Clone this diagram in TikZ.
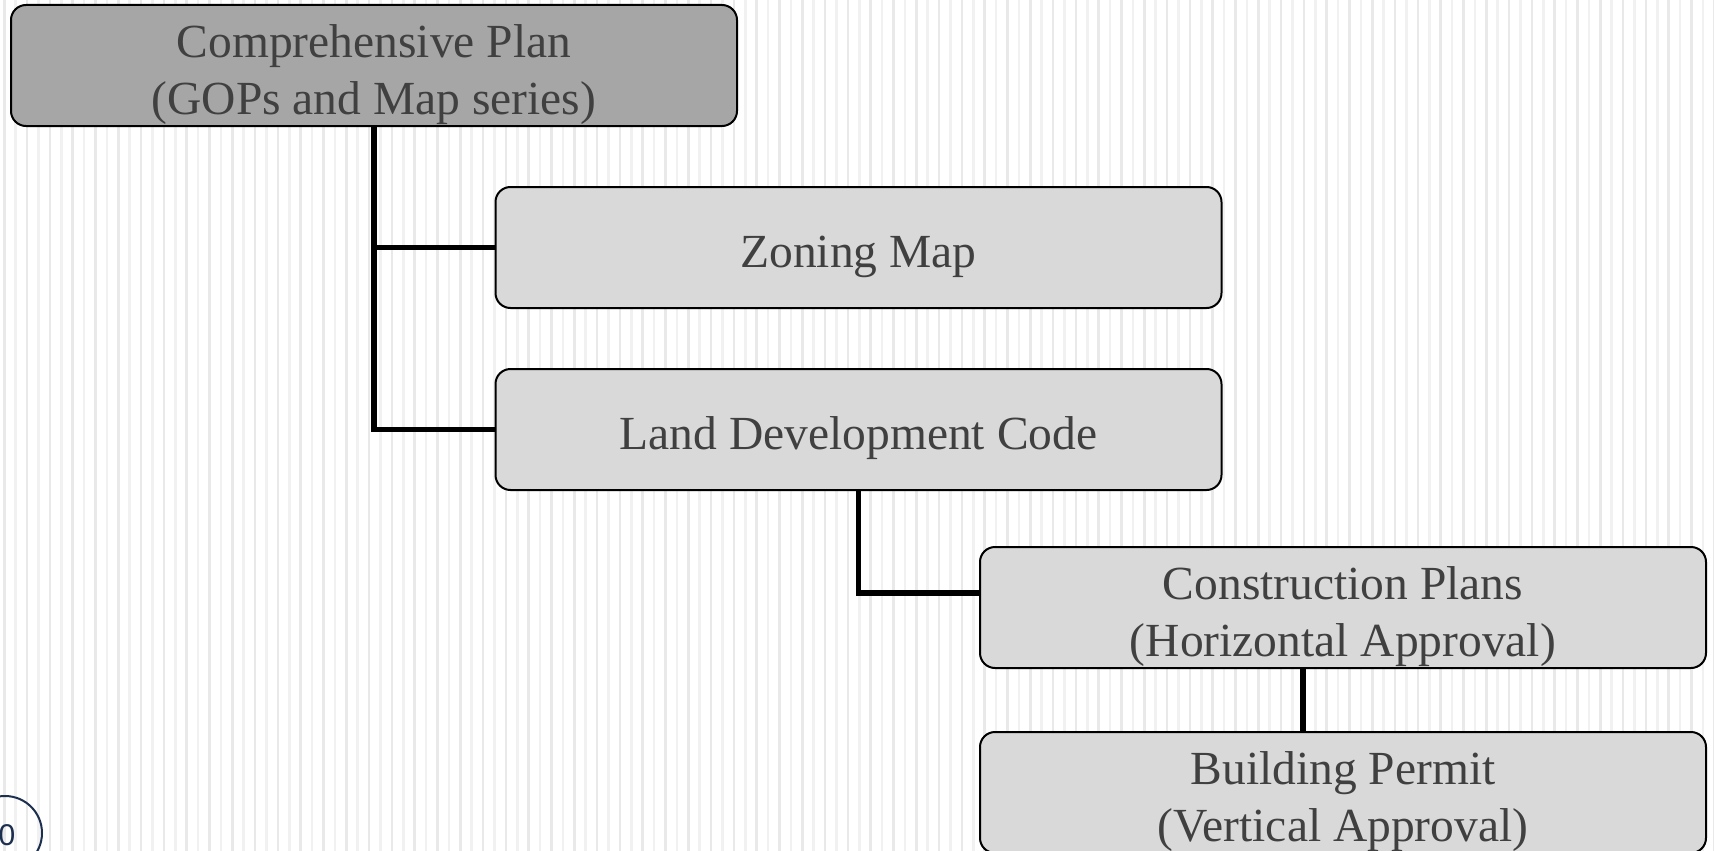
\documentclass[tikz,border=0pt]{standalone}
\usepackage{fontspec}
\setmainfont{Liberation Serif}
\newfontfamily\numfont{Liberation Sans}
\definecolor{txtgray}{HTML}{404040}
\definecolor{darkfill}{HTML}{A6A6A6}
\definecolor{lightfill}{HTML}{D9D9D9}
\definecolor{stripeA}{HTML}{E9E9E9}
\definecolor{stripeB}{HTML}{F1F1F1}
\definecolor{navy}{HTML}{1C2F4F}
\tikzset{
  box/.style={draw=black, line width=2pt, rounded corners=15pt, minimum width=726pt,
    minimum height=121pt, inner sep=0pt},
  topbox/.style={box, fill=darkfill},
  subbox/.style={box, fill=lightfill},
  lbl/.style={inner sep=0pt, align=center, text=txtgray,
    font=\fontsize{47.5}{57}\selectfont},
  link/.style={draw=black, line width=5.5pt}
}
\begin{document}
\begin{tikzpicture}[x=1pt,y=-1pt]
\useasboundingbox (0,0) rectangle (1714,851);
\fill[white] (0,0) rectangle (1714,851);
\foreach \i in {0,...,75} {
  \fill[stripeA] (\i*22.8+3,0) rectangle ++(2.6,851);
  \fill[stripeB] (\i*22.8+14.4,0) rectangle ++(2.6,851);
}
% boxes
\node[topbox] (plan) at (374,65.5) {};
\node[subbox] (zoning) at (858.5,247.5) {};
\node[subbox] (ldc) at (858.5,429.5) {};
\node[subbox] (cons) at (1343,607.5) {};
\node[subbox] (bld) at (1343,792.5) {};
% labels
\node[lbl] (planT) at ([yshift=-9pt]plan.center) {Comprehensive Plan\\(GOPs and Map series)};
\node[lbl] (zoningT) at ([yshift=-9pt]zoning.center) {Zoning Map};
\node[lbl] (ldcT) at ([yshift=-9pt]ldc.center) {Land Development Code};
\node[lbl] (consT) at ([yshift=-9pt]cons.center) {Construction Plans\\(Horizontal Approval)};
\node[lbl] (bldT) at ([yshift=-9pt]bld.center) {Building Permit\\(Vertical Approval)};
% connectors
\draw[link] (plan.south) |- (ldc.west);
\draw[link] (plan.south |- zoning.west) -- (zoning.west);
\draw[link] (ldc.south) |- ([yshift=14.5pt]cons.west);
\draw[link] ([xshift=-40pt]cons.south) -- ([xshift=-40pt]bld.north);
% page number circle
\draw[navy, line width=2pt] (5,833) circle (37);
\node[navy, anchor=west, inner sep=0pt, font=\numfont\fontsize{30}{30}\selectfont] (pnum) at (-1.5,835) {0};
\end{tikzpicture}
\end{document}
